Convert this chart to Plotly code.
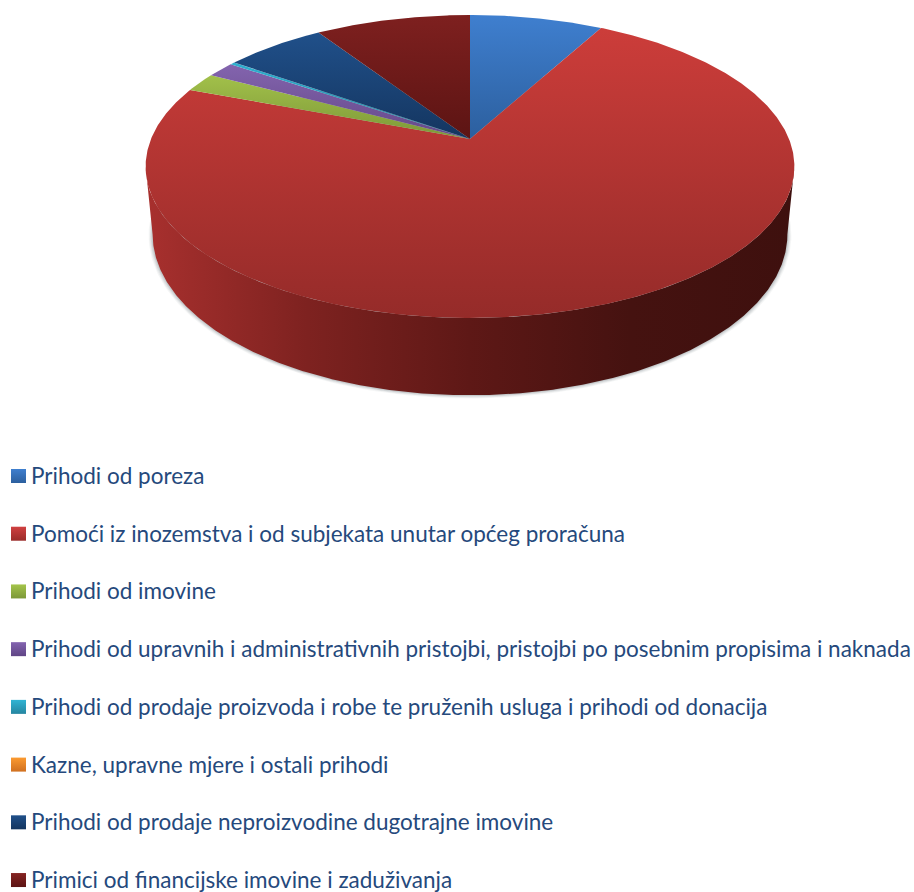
import numpy as np
import plotly.graph_objects as go

# ---- data (percent of total) ----
labels = [
    "Prihodi od poreza",
    "Pomoći iz inozemstva i od subjekata unutar općeg proračuna",
    "Prihodi od imovine",
    "Prihodi od upravnih i administrativnih pristojbi, pristojbi po posebnim propisima i naknada",
    "Prihodi od prodaje proizvoda i robe te pruženih usluga i prihodi od donacija",
    "Kazne, upravne mjere i ostali prihodi",
    "Prihodi od prodaje neproizvodine dugotrajne imovine",
    "Primici od financijske imovine i zaduživanja",
]
values = [7.9, 72.9, 2.03, 1.67, 0.28, 0.01, 6.0, 9.21]

# gradient (top colour, bottom colour) of each slice
face_top = ["#3f7fcf", "#cc3d3a", "#a2c04a", "#8364ae", "#2fb0d0", "#f79646", "#20508a", "#7e201f"]
face_bot = ["#2c5f9e", "#952b29", "#7c9838", "#644888", "#2585a0", "#c87020", "#14355f", "#5c1413"]
swatch_top = ["#3f7fcf", "#d04040", "#a4c44a", "#8464b0", "#30b4d4", "#fb9a30", "#20508a", "#862422"]
swatch_bot = ["#2c5f9e", "#9a2c2a", "#7c9838", "#5f4585", "#2585a0", "#d07020", "#14355f", "#5c1413"]
wall_stops = [[0, "#a8302e"], [0.25, "#7e2220"], [0.5, "#5e1816"], [0.75, "#451210"], [1, "#3e100e"]]
text_color = "#25497c"

# ---- projection of the disc ----
CX = 470.0
top = dict(y0=139.0, a=146.5, b=0.1815, R=319.0)
bot = dict(y0=202.0, a=154.6, b=0.2, R=311.0)


def rim(theta, p):
    s, c = np.cos(theta), np.sin(theta)
    d = 1 + p["b"] * s
    return CX + p["R"] * c / d, p["y0"] - p["a"] * s / d


def front_span(p, lo, hi, n):
    """Angles of [lo, hi] that lie between the two widest points of the rim p."""
    t1 = np.arccos(-p["b"])
    t2 = 2 * np.pi - t1
    a, b = max(lo, t1), min(hi, t2)
    return np.linspace(a, b, n) if b > a else None


fig = go.Figure()
fracs = np.array(values) / sum(values)
edges = np.concatenate([[0], np.cumsum(fracs)]) * 2 * np.pi

# soft shadow round the lower rim
t_all = np.linspace(0, 2 * np.pi, 361)
bx, by = rim(t_all, bot)
for grow, alpha in [(4.0, 0.05), (3.0, 0.07), (2.0, 0.09), (1.0, 0.12)]:
    k = 1 + grow / 318
    fig.add_trace(go.Scatter(
        x=CX + (bx - CX) * k, y=234 + (by - 234) * k + grow * 0.3,
        mode="lines", line=dict(width=0), fill="toself",
        fillcolor=f"rgba(60,70,80,{alpha})", hoverinfo="skip", showlegend=False))

# side wall (front part of the rim only)
for i in range(len(values)):
    n = max(3, int((edges[i + 1] - edges[i]) * 90))
    tp = front_span(top, edges[i], edges[i + 1], n)
    tq = front_span(bot, edges[i], edges[i + 1], n)
    if tp is None or tq is None:
        continue
    px, py = rim(tp, top)
    qx, qy = rim(tq[::-1], bot)
    fig.add_trace(go.Scatter(
        x=np.concatenate([px, qx]), y=np.concatenate([py, qy]),
        mode="lines", line=dict(width=0), fill="toself",
        fillgradient=dict(type="horizontal", start=145, stop=794, colorscale=wall_stops),
        hoverinfo="skip", showlegend=False))

# top face
for i in range(len(values)):
    t = np.linspace(edges[i], edges[i + 1], max(3, int((edges[i + 1] - edges[i]) * 120)))
    px, py = rim(t, top)
    x = np.concatenate([[CX], px, [CX]])
    y = np.concatenate([[top["y0"]], py, [top["y0"]]])
    fig.add_trace(go.Scatter(
        x=x, y=y, mode="lines", line=dict(width=0), fill="toself",
        fillgradient=dict(type="vertical", start=float(y.min()), stop=float(y.max()),
                          colorscale=[[0, face_top[i]], [1, face_bot[i]]]),
        name=labels[i], hoverinfo="skip", showlegend=False))

# legend
LEG_Y0, LEG_STEP = 476.0, 57.72
for i, lab in enumerate(labels):
    yc = LEG_Y0 + i * LEG_STEP
    fig.add_trace(go.Scatter(
        x=[11, 26, 26, 11, 11], y=[yc - 7, yc - 7, yc + 7, yc + 7, yc - 7],
        mode="lines", line=dict(width=0), fill="toself",
        fillgradient=dict(type="vertical", start=yc - 7, stop=yc + 7,
                          colorscale=[[0, swatch_top[i]], [1, swatch_bot[i]]]),
        hoverinfo="skip", showlegend=False))
    fig.add_annotation(x=31, y=yc - 0.5, text=lab, showarrow=False, xanchor="left", yanchor="middle",
                       xshift=-2, font=dict(family="Lato", size=22.5, color=text_color))

fig.update_layout(
    width=914, height=892, margin=dict(l=0, r=0, t=0, b=0),
    paper_bgcolor="white", plot_bgcolor="white", showlegend=False,
    xaxis=dict(range=[0, 914], visible=False, fixedrange=True),
    yaxis=dict(range=[892, 0], visible=False, fixedrange=True),
)
fig.write_html("out.html", config=dict(displayModeBar=False),
               post_script="document.body.style.margin='0';document.body.style.overflow='hidden';")
